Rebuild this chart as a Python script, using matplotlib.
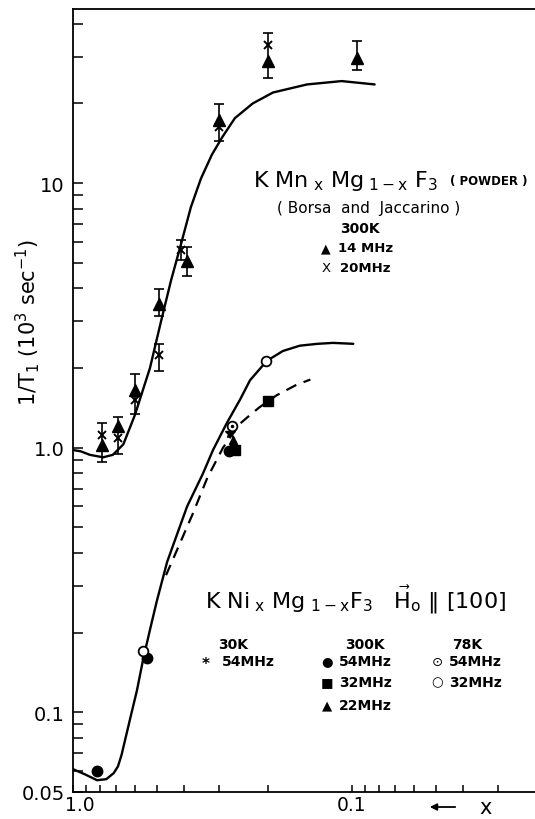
import matplotlib
matplotlib.use("Agg")
import matplotlib.pyplot as plt
from matplotlib.ticker import FixedLocator, FixedFormatter, NullFormatter
from matplotlib.transforms import ScaledTranslation

# KMn(x)Mg(1-x)F3 powder (Borsa and Jaccarino), 300K
mn_tri_x = [0.79, 0.69, 0.60, 0.49, 0.39, 0.30, 0.20, 0.096]      # 14 MHz
mn_tri_y = [1.02, 1.21, 1.65, 3.50, 5.08, 17.3, 28.9, 29.6]
mn_cross_x = [0.79, 0.69, 0.60, 0.49, 0.41, 0.30, 0.20]           # 20 MHz
mn_cross_y = [1.12, 1.09, 1.52, 2.24, 5.59, 16.3, 33.2]
mn_err_x = [0.79, 0.69, 0.60, 0.49, 0.49, 0.41, 0.39, 0.30, 0.20, 0.096]
mn_err_lo = [0.885, 0.95, 1.34, 3.15, 1.95, 5.13, 4.46, 14.4, 24.9, 26.7]
mn_err_hi = [1.24, 1.31, 1.90, 3.98, 2.47, 6.09, 5.73, 19.9, 36.8, 34.4]
mn_fit_x = [1.0, 0.94, 0.87, 0.78, 0.72, 0.66, 0.60, 0.53, 0.482, 0.445, 0.41,
            0.378, 0.348, 0.318, 0.292, 0.263, 0.227, 0.192, 0.145, 0.109, 0.083]
mn_fit_y = [0.98, 0.97, 0.94, 0.92, 0.94, 1.03, 1.33, 2.0, 3.05, 4.30, 5.89,
            8.12, 10.4, 12.8, 14.9, 17.6, 20.0, 22.0, 23.6, 24.3, 23.6]

# KNi(x)Mg(1-x)F3, H0 || [100]
ni_30k_54_x = [0.273]
ni_30k_54_y = [1.14]
ni_300k_54_x = [0.82, 0.543, 0.276]
ni_300k_54_y = [0.060, 0.160, 0.974]
ni_300k_32_x = [0.263, 0.200]
ni_300k_32_y = [0.983, 1.50]
ni_300k_22_x = [0.267]
ni_300k_22_y = [1.07]
ni_78k_54_x = [0.269]
ni_78k_54_y = [1.21]
ni_78k_32_x = [0.561, 0.203]
ni_78k_32_y = [0.170, 2.13]

ni_fit_x = [1.0, 0.906, 0.82, 0.76, 0.715, 0.69, 0.67, 0.625, 0.59, 0.561, 0.53,
            0.50, 0.46, 0.424, 0.39, 0.342, 0.315, 0.281, 0.252, 0.232, 0.202,
            0.177, 0.154, 0.133, 0.117, 0.099]
ni_fit_y = [0.061, 0.0583, 0.0554, 0.0559, 0.0589, 0.0625, 0.069, 0.094, 0.121,
            0.158, 0.205, 0.265, 0.37, 0.47, 0.60, 0.80, 0.98, 1.24, 1.52, 1.80,
            2.13, 2.32, 2.43, 2.47, 2.49, 2.47]
ni_dash_x = [0.464, 0.42, 0.373, 0.33, 0.29, 0.255, 0.23, 0.215, 0.200, 0.186,
             0.158, 0.141]
ni_dash_y = [0.33, 0.42, 0.56, 0.77, 1.0, 1.22, 1.34, 1.42, 1.50, 1.58, 1.73, 1.81]

x_major = [1.0, 0.1]
x_major_labels = ["1.0", "0.1"]
x_minor = [0.9, 0.8, 0.7, 0.6, 0.5, 0.4, 0.3, 0.2,
           0.09, 0.08, 0.07, 0.06, 0.05, 0.04, 0.03]
y_major = [0.05, 0.1, 1.0, 10]
y_major_labels = ["0.05", "0.1", "1.0", "10"]
y_minor = [0.06, 0.07, 0.08, 0.09, 0.2, 0.3, 0.4, 0.5, 0.6, 0.7, 0.8, 0.9,
           2, 3, 4, 5, 6, 7, 8, 9, 20, 30, 40]

plt.rcParams["font.family"] = ["DejaVu Sans"]
plt.rcParams["mathtext.fontset"] = "dejavusans"

W, H = 535, 820
fig = plt.figure(figsize=(W / 100, H / 100), dpi=100)
ax = fig.add_axes([73 / W, 1 - 793 / H, 462 / W, 783 / H])


def fig_xy(px, py):
    return px / W, 1 - py / H


# curves
ax.plot(mn_fit_x, mn_fit_y, color="black", lw=1.7, solid_capstyle="round",
        solid_joinstyle="round")
ax.plot(ni_fit_x, ni_fit_y, color="black", lw=1.7, solid_capstyle="round",
        solid_joinstyle="round")
ax.plot(ni_dash_x, ni_dash_y, color="black", lw=1.6, dashes=(5, 3.5))

# error bars for the powder data
ax.vlines(mn_err_x, mn_err_lo, mn_err_hi, color="black", lw=1.2, zorder=3)
ax.plot(mn_err_x, mn_err_lo, "_", color="black", ms=7, mew=1.2, zorder=3)
ax.plot(mn_err_x, mn_err_hi, "_", color="black", ms=7, mew=1.2, zorder=3)
ax.plot(mn_tri_x, mn_tri_y, "^", color="black", ms=8, zorder=4)
ax.plot(mn_cross_x, mn_cross_y, "x", color="black", ms=6, mew=1.4, zorder=4)

# single crystal data
ax.plot(ni_300k_54_x, ni_300k_54_y, "o", color="black", ms=7.5, zorder=4)
ax.plot(ni_300k_32_x, ni_300k_32_y, "s", color="black", ms=7, zorder=4)
ax.plot(ni_300k_22_x, ni_300k_22_y, "^", color="black", ms=6, zorder=4)
ax.plot(ni_30k_54_x, ni_30k_54_y, "*", color="black", ms=8, zorder=5)
ax.plot(ni_78k_54_x, ni_78k_54_y, "o", mfc="white", mec="black", ms=7, mew=1.3, zorder=5)
ax.plot(ni_78k_54_x, ni_78k_54_y, ".", color="black", ms=3, zorder=6)
ax.plot(ni_78k_32_x, ni_78k_32_y, "o", mfc="white", mec="black", ms=7, mew=1.3, zorder=5)

ax.set_xscale("log")
ax.set_yscale("log")
ax.set_xlim(1.0, 0.0221)
ax.set_ylim(0.05, 45.5)

ax.xaxis.set_major_locator(FixedLocator(x_major))
ax.xaxis.set_major_formatter(FixedFormatter(x_major_labels))
ax.xaxis.set_minor_locator(FixedLocator(x_minor))
ax.xaxis.set_minor_formatter(NullFormatter())
ax.yaxis.set_major_locator(FixedLocator(y_major))
ax.yaxis.set_major_formatter(FixedFormatter(y_major_labels))
ax.yaxis.set_minor_locator(FixedLocator(y_minor))
ax.yaxis.set_minor_formatter(NullFormatter())

ax.tick_params(axis="both", which="both", direction="in", width=1.1,
               top=False, right=False)
ax.tick_params(axis="y", which="both", length=7, pad=6, labelsize=14)
ax.tick_params(axis="x", which="both", length=5, pad=2, labelsize=13.5)
ax.spines["right"].set_visible(False)
for side in ["left", "bottom", "top"]:
    ax.spines[side].set_linewidth(1.3)

# the "1.0" under the corner sits a little to the right, clear of "0.05"
first_label = ax.get_xticklabels()[0]
first_label.set_transform(first_label.get_transform()
                          + ScaledTranslation(7 / 100, 0, fig.dpi_scale_trans))

# axis labels
fig.text(*fig_xy(28, 322), r"1/T$_1$ (10$^3$ sec$^{-1}$)", rotation=90,
         ha="center", va="center", fontsize=15)
ax.annotate("", xy=fig_xy(427, 808), xytext=fig_xy(458, 808),
            xycoords="figure fraction", textcoords="figure fraction",
            arrowprops=dict(arrowstyle="-|>", color="black", lw=1.3, mutation_scale=10))
fig.text(*fig_xy(486, 808), "x", ha="center", va="center", fontsize=15)

# powder labels
fig.text(*fig_xy(253, 181),
         r"K Mn$_{\mathrm{\ x}}$ Mg$_{\mathrm{\ 1 - x}}$ F$_{\mathrm{3}}$",
         ha="left", va="center", fontsize=16)
fig.text(*fig_xy(489, 182), "( POWDER )", ha="center", va="center", fontsize=8.5,
         weight="bold")
fig.text(*fig_xy(369, 208), "( Borsa  and  Jaccarino )", ha="center", va="center",
         fontsize=11)
fig.text(*fig_xy(360, 229), "300K", ha="center", va="center", fontsize=10, weight="bold")
fig.text(*fig_xy(326, 249), "\u25B2", ha="center", va="center", fontsize=9)
fig.text(*fig_xy(338, 249), "14 MHz", ha="left", va="center", fontsize=9.5, weight="bold")
fig.text(*fig_xy(326, 268), "X", ha="center", va="center", fontsize=9.5)
fig.text(*fig_xy(340, 268), "20MHz", ha="left", va="center", fontsize=9.5, weight="bold")

# single crystal labels
fig.text(*fig_xy(205, 600),
         r"K Ni$_{\mathrm{\ x}}$ Mg$_{\mathrm{\ 1-x}}$F$_{\mathrm{3}}$   "
         r"$\vec{\mathrm{H}}_{\mathrm{o}}$ $\Vert$ [100]",
         ha="left", va="center", fontsize=16)
fig.text(*fig_xy(233, 645), "30K", ha="center", va="center", fontsize=10, weight="bold")
fig.text(*fig_xy(206, 664), "*", ha="center", va="center", fontsize=11, weight="bold")
fig.text(*fig_xy(222, 662), "54MHz", ha="left", va="center", fontsize=10, weight="bold")
fig.text(*fig_xy(365, 645), "300K", ha="center", va="center", fontsize=10, weight="bold")
fig.text(*fig_xy(467, 645), "78K", ha="center", va="center", fontsize=10, weight="bold")
legend_rows = [
    (327, 662, "\u25CF", "54MHz"),
    (327, 683, "\u25A0", "32MHz"),
    (327, 706, "\u25B2", "22MHz"),
    (437, 662, "\u2299", "54MHz"),
    (437, 683, "\u25CB", "32MHz"),
]
for px, py, sym, lab in legend_rows:
    fig.text(*fig_xy(px, py), sym, ha="center", va="center", fontsize=9.5)
    fig.text(*fig_xy(px + 12, py), lab, ha="left", va="center", fontsize=10, weight="bold")

fig.savefig("out.png", dpi=100)
